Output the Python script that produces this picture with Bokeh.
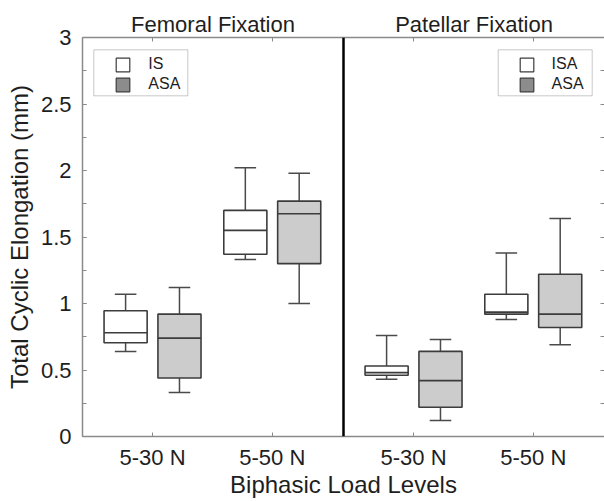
import numpy as np
import pandas as pd
from bokeh.plotting import figure
from bokeh.models import (Range1d, LinearAxis, FixedTicker, SingleIntervalTicker,
                          NumeralTickFormatter, Span, Legend, LegendItem,
                          BoxAnnotation, ColumnDataSource)
from bokeh.embed import file_html
from bokeh.resources import INLINE

# ---------------- data ----------------
panels = ["Femoral Fixation", "Patellar Fixation"]
loads = ["5-30 N", "5-50 N"]
panel_series = [["IS", "ASA"], ["ISA", "ASA"]]

box_panel = ["Femoral Fixation"] * 4 + ["Patellar Fixation"] * 4
box_load = ["5-30 N", "5-30 N", "5-50 N", "5-50 N"] * 2
box_series = ["IS", "ASA", "IS", "ASA", "ISA", "ASA", "ISA", "ASA"]
lower = [0.64, 0.33, 1.33, 1.00, 0.43, 0.12, 0.88, 0.69]
q1 = [0.705, 0.44, 1.37, 1.30, 0.46, 0.22, 0.92, 0.82]
median = [0.78, 0.74, 1.55, 1.675, 0.48, 0.42, 0.935, 0.92]
q3 = [0.945, 0.92, 1.70, 1.77, 0.53, 0.64, 1.07, 1.22]
upper = [1.07, 1.12, 2.02, 1.98, 0.76, 0.73, 1.38, 1.64]

# ---------------- layout / style constants ----------------
PANEL_SPAN = 2.18
X_START = -0.585
X_END = X_START + len(panels) * PANEL_SPAN
Y_MIN, Y_MAX = 0, 3
DODGE = 0.225
BOX_W = 0.36
CAP_W = 0.18
FRAME_W, FRAME_H = 522, 399
PX_X = FRAME_W / (X_END - X_START)
PX_Y = FRAME_H / (Y_MAX - Y_MIN)

FONT = "Liberation Sans"
TXT = "#1e1e1e"
AXC = "#8a8a8a"
BOX_LINE = "#3c3c3c"
WH_LINE = "#4a4a4a"
FILL = {"IS": "white", "ISA": "white", "ASA": "#cccccc"}
LEG_FILL = {"IS": "white", "ISA": "white", "ASA": "#8c8c8c"}

df = pd.DataFrame(dict(panel=box_panel, load=box_load, series=box_series,
                       lower=lower, q1=q1, median=median, q3=q3, upper=upper))
pi = df["panel"].map(panels.index)
li = df["load"].map(loads.index)
si = [panel_series[a].index(s) for a, s in zip(pi, df["series"])]
df["x"] = pi * PANEL_SPAN + li + pd.Series(si).map({0: -DODGE, 1: DODGE})
df["cap_l"] = df["x"] - CAP_W / 2
df["cap_r"] = df["x"] + CAP_W / 2
df["med_l"] = df["x"] - BOX_W / 2
df["med_r"] = df["x"] + BOX_W / 2
df["fill"] = df["series"].map(FILL)
src = ColumnDataSource(df)

p = figure(width=604, height=501,
           x_range=Range1d(X_START, X_END), y_range=Range1d(Y_MIN, Y_MAX),
           output_backend="svg", toolbar_location=None,
           min_border_left=82, min_border_right=0,
           min_border_top=37, min_border_bottom=65)
p.grid.visible = False
p.outline_line_color = None
p.background_fill_color = "white"
p.border_fill_color = "white"

# ---------------- boxes ----------------
wkw = dict(source=src, line_color=WH_LINE, line_width=1.5)
p.segment(x0="x", y0="q3", x1="x", y1="upper", **wkw)
p.segment(x0="x", y0="lower", x1="x", y1="q1", **wkw)
p.segment(x0="cap_l", y0="upper", x1="cap_r", y1="upper", **wkw)
p.segment(x0="cap_l", y0="lower", x1="cap_r", y1="lower", **wkw)
p.vbar(x="x", width=BOX_W, bottom="q1", top="q3", fill_color="fill",
       line_color=BOX_LINE, line_width=1.6, source=src)
p.segment(x0="med_l", y0="median", x1="med_r", y1="median", source=src,
          line_color=BOX_LINE, line_width=1.6)

# ---------------- axes ----------------
tick_pos = [i * PANEL_SPAN + j for i in range(len(panels)) for j in range(len(loads))]
tick_lbl = [ld for _ in panels for ld in loads]
panel_mid = [X_START + (i + 0.5) * PANEL_SPAN for i in range(len(panels))]
y_minor = list(np.arange(Y_MIN, Y_MAX + 0.001, 0.25))

xa = p.xaxis[0]
xa.ticker = FixedTicker(ticks=tick_pos)
xa.major_label_overrides = {t: l for t, l in zip(tick_pos, tick_lbl)}
xa.axis_label = "Biphasic Load Levels"
xa.axis_label_text_font = FONT
xa.axis_label_text_font_size = "24px"
xa.axis_label_text_font_style = "normal"
xa.axis_label_text_color = TXT
xa.axis_label_standoff = -2
xa.major_label_text_font = FONT
xa.major_label_text_font_size = "22px"
xa.major_label_text_color = TXT
xa.major_label_standoff = 8
xa.major_tick_in = 4
xa.major_tick_out = 0
xa.minor_tick_line_color = None
xa.axis_line_color = AXC
xa.axis_line_width = 1.5
xa.major_tick_line_color = AXC

ya = p.yaxis[0]
ya.ticker = SingleIntervalTicker(interval=0.5, num_minor_ticks=2)
ya.formatter = NumeralTickFormatter(format="0.[0]")
ya.axis_label = "Total Cyclic Elongation (mm)"
ya.axis_label_text_font = FONT
ya.axis_label_text_font_size = "24px"
ya.axis_label_text_font_style = "normal"
ya.axis_label_text_color = TXT
ya.axis_label_standoff = 5
ya.major_label_text_font = FONT
ya.major_label_text_font_size = "22px"
ya.major_label_text_color = TXT
ya.major_label_standoff = 11
ya.major_tick_in = 4
ya.major_tick_out = 0
ya.minor_tick_in = 4
ya.minor_tick_out = 0
ya.axis_line_color = AXC
ya.axis_line_width = 1.5
ya.major_tick_line_color = AXC
ya.minor_tick_line_color = AXC

# right side: tick marks only (minor ticks, no labels)
ax_r = LinearAxis(ticker=FixedTicker(ticks=[], minor_ticks=y_minor),
                  major_label_standoff=0, major_tick_in=0, major_tick_out=0,
                  minor_tick_in=4, minor_tick_out=0,
                  axis_line_color=None, minor_tick_line_color=AXC)
p.add_layout(ax_r, "right")

# top: panel titles as labels, category tick marks as minor ticks
ax_t = LinearAxis(ticker=FixedTicker(ticks=panel_mid, minor_ticks=tick_pos),
                  major_label_overrides={m: n for m, n in zip(panel_mid, panels)},
                  major_label_text_font=FONT, major_label_text_font_size="22px",
                  major_label_text_color=TXT, major_label_standoff=1,
                  major_tick_in=0, major_tick_out=0,
                  minor_tick_in=4, minor_tick_out=0, minor_tick_line_color=AXC,
                  axis_line_color=AXC, axis_line_width=1.5)
p.add_layout(ax_t, "above")

# ---------------- divider ----------------
p.add_layout(Span(location=X_START + PANEL_SPAN, dimension="height",
                  line_color="black", line_width=2.5))

# ---------------- legends ----------------
nan = float("nan")
leg_r = {k: p.vbar(x=[nan], top=[nan], width=BOX_W, fill_color=c, line_color=BOX_LINE,
                   line_width=1.2) for k, c in LEG_FILL.items()}

frame_boxes = [(11.3, 105.3), (415.7, 509.7)]   # left/right edge, px from frame left
glyph_x = [32.3, 435.6]
for i, series in enumerate(panel_series):
    l, r = frame_boxes[i]
    p.add_layout(BoxAnnotation(left=X_START + l / PX_X, right=X_START + r / PX_X,
                               top=Y_MAX - 12.3 / PX_Y, bottom=Y_MAX - 58.3 / PX_Y,
                               fill_color=None, line_color="#4d4d4d", line_width=1))
    leg = Legend(items=[LegendItem(label=s, renderers=[leg_r[s]]) for s in series],
                 location=(glyph_x[i], 342.7), orientation="vertical",
                 border_line_color=None, background_fill_alpha=0,
                 padding=0, margin=0, spacing=2,
                 glyph_width=17, glyph_height=17, label_height=18,
                 label_standoff=17, label_text_font=FONT,
                 label_text_font_size="16px", label_text_color=TXT)
    p.add_layout(leg)

open("out.html", "w").write(file_html(p, INLINE))
